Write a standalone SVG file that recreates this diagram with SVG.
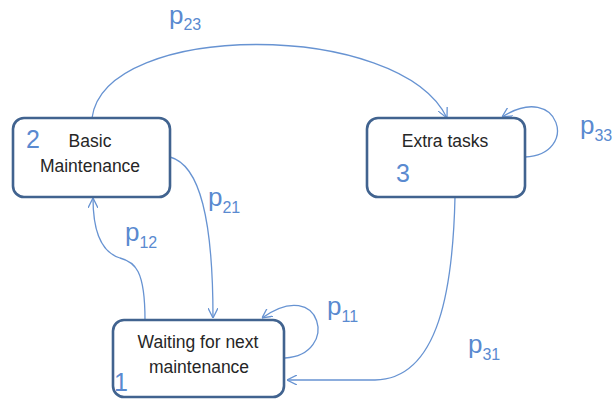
<svg xmlns="http://www.w3.org/2000/svg" width="616" height="403" viewBox="0 0 616 403">
  <style>
    .box { fill: #ffffff; stroke: #41638f; stroke-width: 2.6; }
    .name { font-family: "Liberation Sans", Arial, sans-serif; font-size: 17.5px; fill: #262626; text-anchor: middle; }
    .num { font-family: "Liberation Sans", Arial, sans-serif; font-size: 25px; fill: #5a8ad0; }
    .edge { fill: none; stroke: #6793d2; stroke-width: 1.3; marker-end: url(#arrow); }
    .lbl { font-family: "Liberation Sans", Arial, sans-serif; font-size: 26px; fill: #5a8ad0; }
    .sub { font-size: 16px; }
  </style>
  <defs>
    <marker id="arrow" viewBox="0 0 10 10" refX="10" refY="5" markerWidth="10" markerHeight="10" markerUnits="userSpaceOnUse" orient="auto">
      <path d="M0,0 L10,5 L0,10" fill="none" stroke="#6793d2" stroke-width="1.3"/>
    </marker>
  </defs>

  <g id="connectors">
    <!-- 2 -> 3 -->
    <path class="edge" d="M92,118 C105,20 400,20 447,118"/>
    <!-- 3 -> 3 -->
    <path class="edge" d="M525,157 C580,155 560,80 502,117"/>
    <!-- 2 -> 1 -->
    <path class="edge" d="M170,157 C200,165 213,220 213,318"/>
    <!-- 1 -> 2 -->
    <path class="edge" d="M145,320 C145,270 135,262 120,258 C100,252 93,230 93,198"/>
    <!-- 1 -> 1 -->
    <path class="edge" d="M285,358 C340,355 322,275 262,318"/>
    <!-- 3 -> 1 -->
    <path class="edge" d="M455,197 C453,285 440,379 375,380 L287,380"/>
  </g>

  <g id="labels">
    <text class="lbl" x="169" y="24">p<tspan class="sub" dy="6">23</tspan></text>
    <text class="lbl" x="580" y="134">p<tspan class="sub" dy="7">33</tspan></text>
    <text class="lbl" x="208" y="206">p<tspan class="sub" dy="7">21</tspan></text>
    <text class="lbl" x="125" y="241">p<tspan class="sub" dy="7">12</tspan></text>
    <text class="lbl" x="327" y="315">p<tspan class="sub" dy="7">11</tspan></text>
    <text class="lbl" x="468" y="353">p<tspan class="sub" dy="7">31</tspan></text>
  </g>

  <g id="node-2">
    <rect class="box" x="13" y="118" width="157" height="79" rx="11"/>
    <text class="num" x="26" y="148">2</text>
    <text class="name" x="90" y="147">Basic</text>
    <text class="name" x="90" y="172">Maintenance</text>
  </g>

  <g id="node-3">
    <rect class="box" x="367" y="118" width="158" height="79" rx="11"/>
    <text class="name" x="445" y="147">Extra tasks</text>
    <text class="num" x="396" y="182">3</text>
  </g>

  <g id="node-1">
    <rect class="box" x="113" y="320" width="171" height="77" rx="11"/>
    <text class="name" x="198" y="348">Waiting for next</text>
    <text class="name" x="199" y="373">maintenance</text>
    <text class="num" x="114" y="391">1</text>
  </g>
</svg>
